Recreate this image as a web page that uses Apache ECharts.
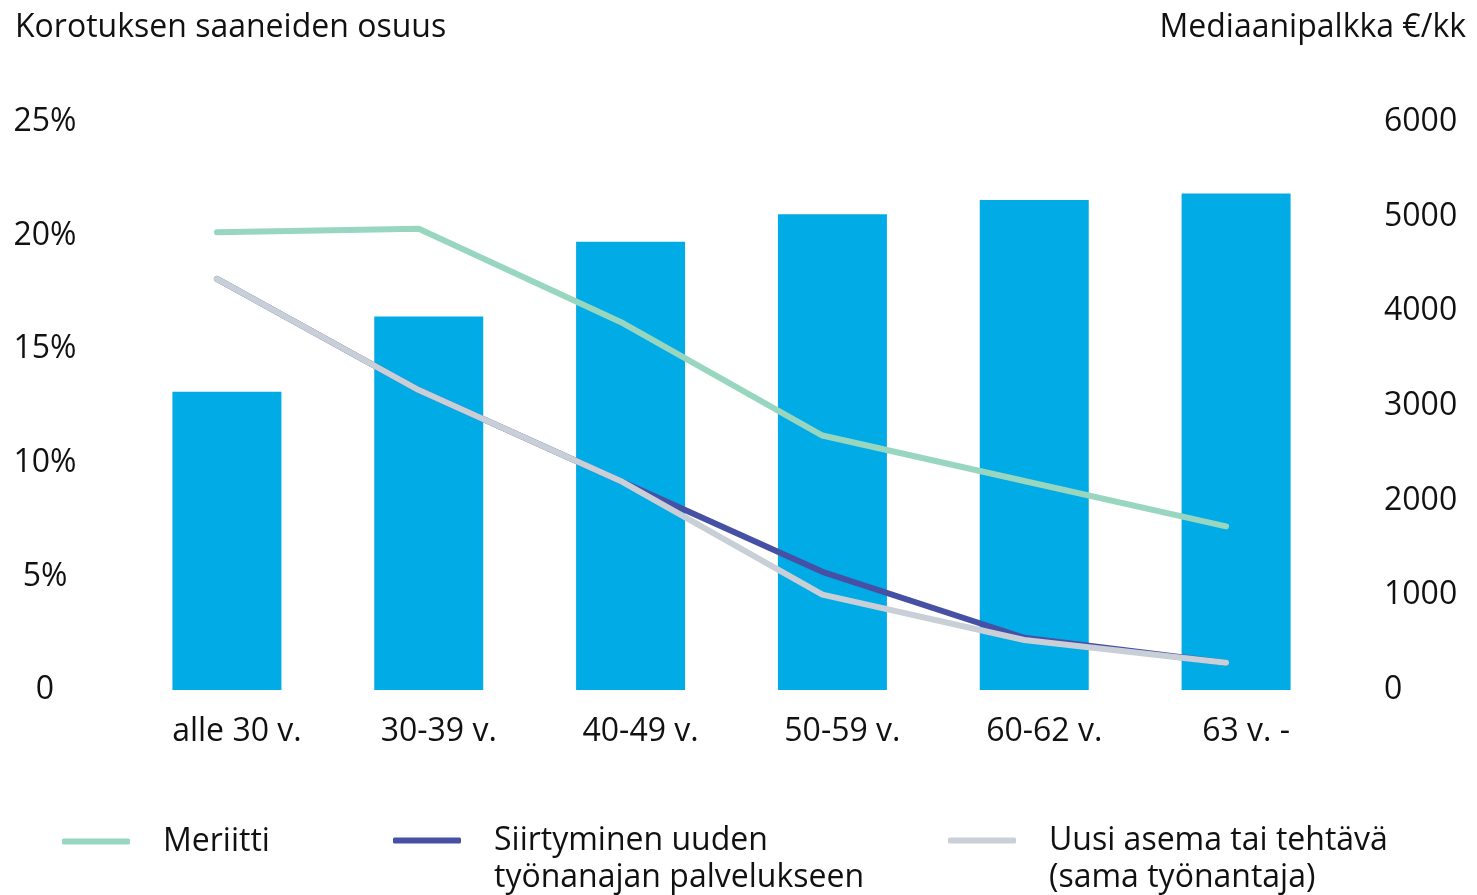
<!DOCTYPE html>
<html>
<head>
<meta charset="utf-8">
<script src="https://cdn.jsdelivr.net/npm/echarts@6/dist/echarts.min.js"></script>
<style>html,body{margin:0;padding:0;background:#fff;}#c{width:1477px;height:895px;}</style>
</head>
<body>
<div id="c"></div>
<script>
const categories = ['alle 30 v.', '30-39 v.', '40-49 v.', '50-59 v.', '60-62 v.', '63 v. -'];
const medianSalary = [3150, 3945, 4735, 5025, 5175, 5245];
const meriitti = [20.15, 20.3, 16.2, 11.2, 9.2, 7.2];
const siirtyminen = [18.1, 13.2, 9.2, 5.2, 2.3, 1.2];
const uusiAsema = [18.1, 13.2, 9.2, 4.2, 2.2, 1.2];
const leftTicks = { min: 0, max: 25, interval: 5 };
const rightTicks = { min: 0, max: 6000, interval: 1000 };
const seriesNames = ['Meriitti', 'Siirtyminen uuden\ntyönanajan palvelukseen', 'Uusi asema tai tehtävä\n(sama työnantaja)'];
const titleLeft = 'Korotuksen saaneiden osuus';
const titleRight = 'Mediaanipalkka €/kk';

const FONT = 'Open Sans';
const TXT = '#111';
const colors = { bar: '#00ABE6', meriitti: '#98D6C0', siirt: '#4650A5', uusi: '#C9CFD6' };

const chart = echarts.init(document.getElementById('c'));
const legendBase = {
  orient: 'horizontal', itemWidth: 68, itemHeight: 6, itemGap: 0,
  icon: 'roundRect', selectedMode: false
};
const legendText = { fontFamily: FONT, fontSize: 32, color: TXT, lineHeight: 37, padding: [0, 0, 0, 28] };
chart.setOption({
  animation: false,
  title: [
    { text: titleLeft, left: 10, top: 7, textStyle: { fontFamily: FONT, fontSize: 32, fontWeight: 'normal', color: TXT } },
    { text: titleRight, right: 6, top: 7, textStyle: { fontFamily: FONT, fontSize: 32, fontWeight: 'normal', color: TXT } }
  ],
  legend: [
    Object.assign({}, legendBase, { left: 57, top: 818, data: [seriesNames[0]], textStyle: legendText }),
    Object.assign({}, legendBase, { left: 388, top: 780, data: [seriesNames[1]], textStyle: legendText,
      formatter: n => '\n' + n }),
    Object.assign({}, legendBase, { left: 943, top: 780, data: [seriesNames[2]], textStyle: legendText,
      formatter: n => '\n' + n })
  ],
  grid: [
    { left: 126, right: 140, top: 122, bottom: 205 },
    { left: 116, right: 150, top: 122, bottom: 205 }
  ],
  xAxis: [
    { type: 'category', gridIndex: 0, data: categories,
      axisLine: { show: false }, axisTick: { show: false },
      axisLabel: { fontFamily: FONT, fontSize: 32, color: TXT, margin: 26, padding: [0, 0, 0, 20] } },
    { type: 'category', gridIndex: 1, data: categories, show: false }
  ],
  yAxis: [
    { type: 'value', gridIndex: 0, position: 'left', min: leftTicks.min, max: leftTicks.max, interval: leftTicks.interval,
      splitLine: { show: false }, axisLine: { show: false }, axisTick: { show: false },
      axisLabel: { fontFamily: FONT, fontSize: 32, color: TXT, align: 'center', margin: 81, padding: [6, 0, 0, 0],
        formatter: v => v === 0 ? '0' : v + '%' } },
    { type: 'value', gridIndex: 0, position: 'right', min: rightTicks.min, max: rightTicks.max, interval: rightTicks.interval,
      splitLine: { show: false }, axisLine: { show: false }, axisTick: { show: false },
      axisLabel: { fontFamily: FONT, fontSize: 32, color: TXT, align: 'left', margin: 47, padding: [6, 0, 0, 0],
        formatter: v => String(v) } },
    { type: 'value', gridIndex: 1, min: leftTicks.min, max: leftTicks.max, interval: leftTicks.interval, show: false }
  ],
  series: [
    { name: 'Mediaanipalkka', type: 'bar', xAxisIndex: 0, yAxisIndex: 1, data: medianSalary,
      barWidth: '54%', itemStyle: { color: colors.bar } },
    { name: seriesNames[0], type: 'line', xAxisIndex: 1, yAxisIndex: 2, data: meriitti,
      symbol: 'none', lineStyle: { color: colors.meriitti, width: 6, cap: 'round', join: 'round' }, itemStyle: { color: colors.meriitti } },
    { name: seriesNames[1], type: 'line', xAxisIndex: 1, yAxisIndex: 2, data: siirtyminen,
      symbol: 'none', lineStyle: { color: colors.siirt, width: 6, cap: 'round', join: 'round' }, itemStyle: { color: colors.siirt } },
    { name: seriesNames[2], type: 'line', xAxisIndex: 1, yAxisIndex: 2, data: uusiAsema,
      symbol: 'none', lineStyle: { color: colors.uusi, width: 6, cap: 'round', join: 'round' }, itemStyle: { color: colors.uusi } }
  ]
});
</script>
</body>
</html>
